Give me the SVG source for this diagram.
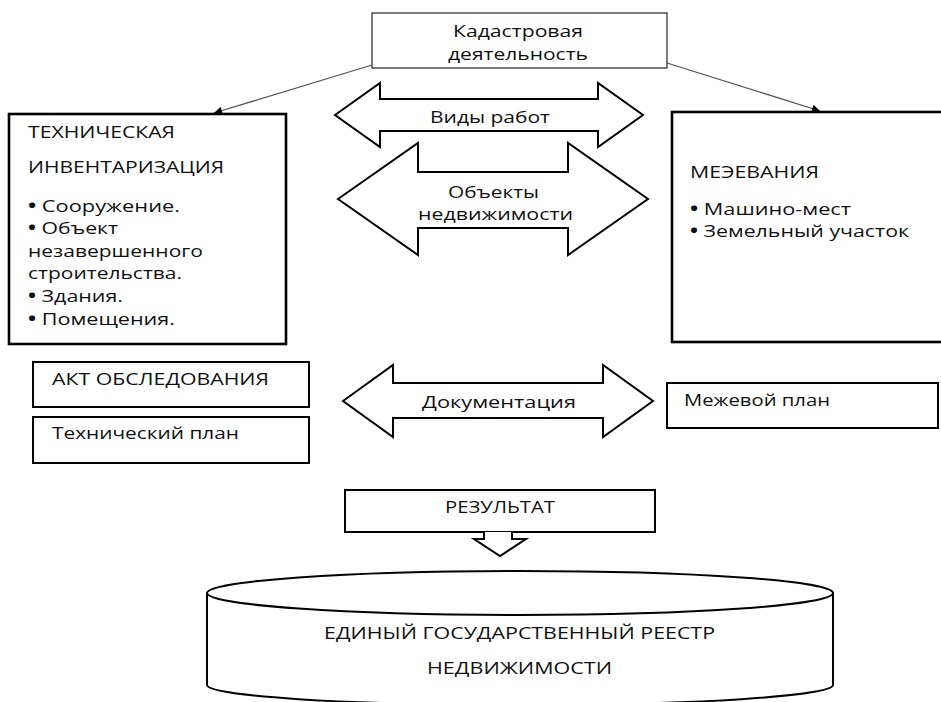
<svg xmlns="http://www.w3.org/2000/svg" width="941" height="702" viewBox="0 0 941 702">
<style>
.t{font-family:"Open Sans","Noto Sans","DejaVu Sans",sans-serif;font-size:17px;fill:#111}
.b{font-weight:bold}
.box{fill:#fff;stroke:#000;stroke-width:2}
.thick{fill:#fff;stroke:#000;stroke-width:2.6}
.thin{fill:#fff;stroke:#444;stroke-width:1.4}
.blk{fill:#fff;stroke:#000;stroke-width:2;stroke-linejoin:miter}
.link{stroke:#555;stroke-width:1.3;fill:none}
</style>
<defs>
<marker id="ah" viewBox="0 0 10 10" refX="10" refY="5" markerWidth="9" markerHeight="8" markerUnits="userSpaceOnUse" orient="auto">
<path d="M0,0 L10,5 L0,10 z" fill="#000"/>
</marker>
</defs>
<rect width="941" height="702" fill="#fff"/>

<g id="connectors">
<line class="link" x1="372" y1="65" x2="214" y2="113" marker-end="url(#ah)"/>
<line class="link" x1="667" y1="63" x2="820" y2="111" marker-end="url(#ah)"/>
</g>

<g id="kadastr">
<rect class="thin" x="372" y="13" width="295" height="55"/>
<text class="t" x="453" y="37" textLength="130" lengthAdjust="spacingAndGlyphs">Кадастровая</text>
<text class="t" x="448" y="60" textLength="140" lengthAdjust="spacingAndGlyphs">деятельность</text>
</g>

<g id="tech-inv">
<rect class="thick" x="9" y="114" width="277" height="230"/>
<text class="t" x="28" y="138" textLength="147" lengthAdjust="spacingAndGlyphs">ТЕХНИЧЕСКАЯ</text>
<text class="t" x="28" y="173" textLength="196" lengthAdjust="spacingAndGlyphs">ИНВЕНТАРИЗАЦИЯ</text>
<text class="t" x="28" y="212" textLength="152" lengthAdjust="spacingAndGlyphs"><tspan class="b">•</tspan> Сооружение.</text>
<text class="t" x="28" y="234" textLength="90" lengthAdjust="spacingAndGlyphs"><tspan class="b">•</tspan> Объект</text>
<text class="t" x="28" y="257" textLength="175" lengthAdjust="spacingAndGlyphs">незавершенного</text>
<text class="t" x="28" y="279" textLength="154" lengthAdjust="spacingAndGlyphs">строительства.</text>
<text class="t" x="28" y="302" textLength="95" lengthAdjust="spacingAndGlyphs"><tspan class="b">•</tspan> Здания.</text>
<text class="t" x="28" y="325" textLength="147" lengthAdjust="spacingAndGlyphs"><tspan class="b">•</tspan> Помещения.</text>
</g>

<g id="mezhevanie">
<rect class="thick" x="672" y="112" width="280" height="230"/>
<text class="t" x="690" y="178" textLength="129" lengthAdjust="spacingAndGlyphs">МЕЭЕВАНИЯ</text>
<text class="t" x="690" y="215" textLength="161" lengthAdjust="spacingAndGlyphs"><tspan class="b">•</tspan> Машино-мест</text>
<text class="t" x="690" y="237" textLength="219" lengthAdjust="spacingAndGlyphs"><tspan class="b">•</tspan> Земельный участок</text>
</g>

<g id="vidy-rabot">
<polygon class="blk" points="335,115 380,83 380,99 598,99 598,83 643,115 598,147 598,131 380,131 380,147"/>
<text class="t" x="430" y="123" textLength="120" lengthAdjust="spacingAndGlyphs">Виды работ</text>
</g>

<g id="obekty">
<polygon class="blk" points="338,199 418,143 418,172 568,172 568,143 648,199 568,255 568,228 418,228 418,255"/>
<text class="t" x="448" y="198" textLength="91" lengthAdjust="spacingAndGlyphs">Объекты</text>
<text class="t" x="418" y="220" textLength="155" lengthAdjust="spacingAndGlyphs">недвижимости</text>
</g>

<g id="akt">
<rect class="box" x="33" y="362" width="276" height="45"/>
<text class="t" x="52" y="385" textLength="217" lengthAdjust="spacingAndGlyphs">АКТ ОБСЛЕДОВАНИЯ</text>
</g>

<g id="tech-plan">
<rect class="box" x="33" y="417" width="276" height="46"/>
<text class="t" x="52" y="439" textLength="187" lengthAdjust="spacingAndGlyphs">Технический план</text>
</g>

<g id="dokumentaciya">
<polygon class="blk" points="343,401 393,365 393,383 603,383 603,365 653,401 603,437 603,418 393,418 393,437"/>
<text class="t" x="422" y="408" textLength="154" lengthAdjust="spacingAndGlyphs">Документация</text>
</g>

<g id="mezhevoy-plan">
<rect class="box" x="667" y="383" width="271" height="45"/>
<text class="t" x="684" y="406" textLength="146" lengthAdjust="spacingAndGlyphs">Межевой план</text>
</g>

<g id="rezultat">
<rect class="box" x="345" y="490" width="310" height="42"/>
<text class="t" x="445" y="513" textLength="110" lengthAdjust="spacingAndGlyphs">РЕЗУЛЬТАТ</text>
<path class="blk" d="M484,532 V539 H474 L500,556 L526,539 H512 V532"/>
</g>

<g id="egrn">
<path class="blk" d="M207,593 V685 A313,20 0 0 0 833,685 V593"/>
<ellipse class="blk" cx="520" cy="593" rx="313" ry="22"/>
<text class="t" x="324" y="639" textLength="391" lengthAdjust="spacingAndGlyphs">ЕДИНЫЙ ГОСУДАРСТВЕННЫЙ РЕЕСТР</text>
<text class="t" x="427" y="674" textLength="185" lengthAdjust="spacingAndGlyphs">НЕДВИЖИМОСТИ</text>
</g>
</svg>
